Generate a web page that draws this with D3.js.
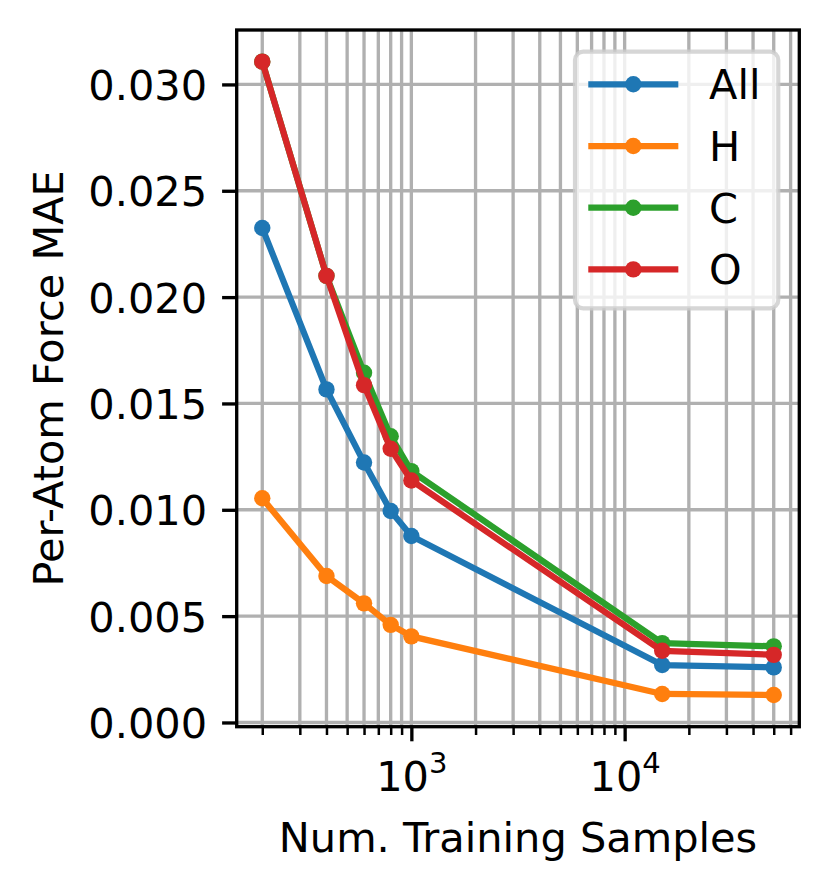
<!DOCTYPE html>
<html>
<head>
<meta charset="utf-8">
<script src="https://cdn.jsdelivr.net/npm/d3@7"></script>
<style>
  html, body { margin: 0; padding: 0; background: #fff; }
  svg { display: block; font-family: "DejaVu Sans", sans-serif; }
</style>
</head>
<body>
<svg id="chart" width="829" height="891"></svg>
<script>
// ---- data ----
const samples = [200, 400, 600, 800, 1000, 15000, 50000];
const maeAll = [0.02325, 0.01566, 0.01222, 0.00994, 0.00877, 0.00270, 0.00259];
const maeH   = [0.01054, 0.00689, 0.00560, 0.00459, 0.00405, 0.00134, 0.00129];
const maeC   = [0.03107, 0.02100, 0.01644, 0.01346, 0.01182, 0.00373, 0.00358];
const maeO   = [0.03107, 0.02100, 0.01586, 0.01287, 0.01138, 0.00337, 0.00318];
const seriesNames = ["All", "H", "C", "O"];
const seriesColors = ["#1f77b4", "#ff7f0e", "#2ca02c", "#d62728"];
const yTickValues = [0, 0.005, 0.010, 0.015, 0.020, 0.025, 0.030];
const xMajorTicks = [1000, 10000];
const xLabel = "Num. Training Samples";
const yLabel = "Per-Atom Force MAE";

const seriesValues = [maeAll, maeH, maeC, maeO];

// ---- layout ----
const W = 829, H = 891;
const plot = { left: 236.7, right: 799.3, top: 30, bottom: 726.7 };
const FS = 41.5;           // 10pt at 300dpi
const LW = 6.25;           // 1.5pt line
const SPINE = 3.33;        // 0.8pt

const svg = d3.select("#chart");
svg.append("rect").attr("width", W).attr("height", H).attr("fill", "#fff");

// x scale (log) with 5% margins in log space like matplotlib
const lx = d3.extent(samples).map(Math.log10);
const padX = (lx[1] - lx[0]) * 0.05;
const x = d3.scaleLog()
  .domain([Math.pow(10, lx[0] - padX), Math.pow(10, lx[1] + padX)])
  .range([plot.left, plot.right]);

const allVals = seriesValues.flat();
const ly = d3.extent(allVals);
const padY = (ly[1] - ly[0]) * 0.05;
const y = d3.scaleLinear()
  .domain([ly[0] - padY, ly[1] + padY])
  .range([plot.bottom, plot.top]);

// minor+major x ticks
const xAllTicks = x.ticks().filter(v => v >= x.domain()[0] && v <= x.domain()[1]);
const isMajor = v => xMajorTicks.some(m => Math.abs(m - v) / m < 1e-9);

// ---- grid ----
const grid = svg.append("g").attr("stroke", "#b0b0b0").attr("stroke-width", 3.33);
grid.selectAll("line.vx").data(xAllTicks).join("line")
  .attr("x1", d => x(d)).attr("x2", d => x(d))
  .attr("y1", plot.top).attr("y2", plot.bottom);
grid.selectAll("line.hy").data(yTickValues).join("line")
  .attr("x1", plot.left).attr("x2", plot.right)
  .attr("y1", d => y(d)).attr("y2", d => y(d));

// ---- series ----
const line = d3.line().x(d => x(d[0])).y(d => y(d[1]));
seriesValues.forEach((vals, i) => {
  const pts = samples.map((s, j) => [s, vals[j]]);
  const g = svg.append("g");
  g.append("path").datum(pts)
    .attr("d", line)
    .attr("fill", "none")
    .attr("stroke", seriesColors[i])
    .attr("stroke-width", LW)
    .attr("stroke-linejoin", "round")
    .attr("stroke-linecap", "square");
  g.selectAll("circle").data(pts).join("circle")
    .attr("cx", d => x(d[0])).attr("cy", d => y(d[1]))
    .attr("r", 8.2).attr("fill", seriesColors[i]);
});

// ---- axes ----
const yAxis = d3.axisLeft(y).tickValues(yTickValues)
  .tickFormat(d3.format(".3f")).tickSize(14.6).tickPadding(15);
const gy = svg.append("g").attr("transform", `translate(${plot.left},0)`).call(yAxis);
gy.select(".domain").remove();
gy.selectAll(".tick line").attr("stroke", "#000").attr("stroke-width", SPINE);
gy.selectAll(".tick text").attr("font-size", FS).attr("fill", "#000")
  .attr("font-family", "DejaVu Sans, sans-serif").attr("dy", "0.36em");

const xAxisMinor = d3.axisBottom(x).tickValues(xAllTicks.filter(v => !isMajor(v)))
  .tickSize(8.3).tickFormat("");
const gxm = svg.append("g").attr("transform", `translate(0,${plot.bottom})`).call(xAxisMinor);
gxm.select(".domain").remove();
gxm.selectAll(".tick line").attr("stroke", "#000").attr("stroke-width", 2.5);

const xAxisMajor = d3.axisBottom(x).tickValues(xMajorTicks).tickSize(14.6).tickFormat("");
const gx = svg.append("g").attr("transform", `translate(0,${plot.bottom})`).call(xAxisMajor);
gx.select(".domain").remove();
gx.selectAll(".tick line").attr("stroke", "#000").attr("stroke-width", SPINE);
gx.selectAll(".tick").each(function(d) {
  const e = Math.round(Math.log10(d));
  const t = d3.select(this).append("text")
    .attr("y", 64.3).attr("text-anchor", "middle")
    .attr("fill", "#000").attr("font-size", FS)
    .attr("font-family", "DejaVu Sans, sans-serif");
  t.append("tspan").text("10");
  t.append("tspan").attr("font-size", FS * 0.7).attr("dy", -18).text(String(e));
});

// spines
svg.append("rect")
  .attr("x", plot.left).attr("y", plot.top)
  .attr("width", plot.right - plot.left).attr("height", plot.bottom - plot.top)
  .attr("fill", "none").attr("stroke", "#000").attr("stroke-width", SPINE)
  .attr("stroke-linejoin", "miter");

// axis labels
svg.append("text")
  .attr("x", (plot.left + plot.right) / 2).attr("y", 851.7)
  .attr("text-anchor", "middle").attr("font-size", FS).attr("fill", "#000")
  .text(xLabel);
svg.append("text")
  .attr("transform", `translate(63,${(plot.top + plot.bottom) / 2}) rotate(-90)`)
  .attr("text-anchor", "middle").attr("font-size", FS).attr("fill", "#000")
  .text(yLabel);

// ---- legend ----
const leg = svg.append("g");
leg.append("rect")
  .attr("x", 575).attr("y", 51.7).attr("width", 203.3).attr("height", 256.6)
  .attr("rx", 8.3).attr("ry", 8.3)
  .attr("fill", "#fff").attr("fill-opacity", 0.8)
  .attr("stroke", "#cccccc").attr("stroke-opacity", 0.8).attr("stroke-width", 4.17);
const rowY0 = 84.3, rowStep = 61.7;
seriesNames.forEach((name, i) => {
  const cy = rowY0 + i * rowStep;
  leg.append("line")
    .attr("x1", 591.4).attr("x2", 675.2).attr("y1", cy).attr("y2", cy)
    .attr("stroke", seriesColors[i]).attr("stroke-width", LW)
    .attr("stroke-linecap", "square");
  leg.append("circle").attr("cx", 633.3).attr("cy", cy).attr("r", 8.2)
    .attr("fill", seriesColors[i]);
  leg.append("text").attr("x", 709).attr("y", cy + 15)
    .attr("font-size", FS).attr("fill", "#000").text(name);
});
</script>
</body>
</html>
